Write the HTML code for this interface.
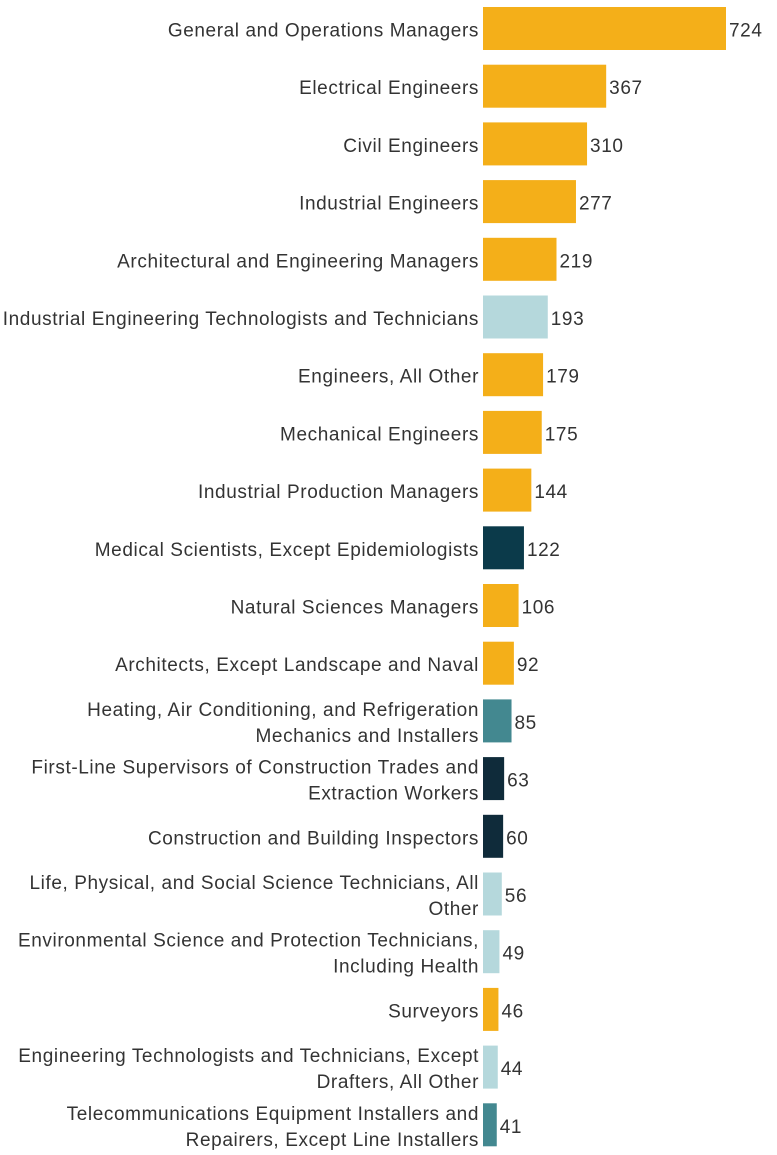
<!DOCTYPE html>
<html><head><meta charset="utf-8"><style>
html,body{margin:0;padding:0;background:#fff;}
svg{display:block;font-family:"Liberation Sans",sans-serif;}
</style></head><body>
<svg id="chart" width="777" height="1155" viewBox="0 0 777 1155"></svg>
<script>
const categories = [
 ["General and Operations Managers"],
 ["Electrical Engineers"],
 ["Civil Engineers"],
 ["Industrial Engineers"],
 ["Architectural and Engineering Managers"],
 ["Industrial Engineering Technologists and Technicians"],
 ["Engineers, All Other"],
 ["Mechanical Engineers"],
 ["Industrial Production Managers"],
 ["Medical Scientists, Except Epidemiologists"],
 ["Natural Sciences Managers"],
 ["Architects, Except Landscape and Naval"],
 ["Heating, Air Conditioning, and Refrigeration","Mechanics and Installers"],
 ["First-Line Supervisors of Construction Trades and","Extraction Workers"],
 ["Construction and Building Inspectors"],
 ["Life, Physical, and Social Science Technicians, All","Other"],
 ["Environmental Science and Protection Technicians,","Including Health"],
 ["Surveyors"],
 ["Engineering Technologists and Technicians, Except","Drafters, All Other"],
 ["Telecommunications Equipment Installers and","Repairers, Except Line Installers"]
];
const values = [724,367,310,277,219,193,179,175,144,122,106,92,85,63,60,56,49,46,44,41];
const groups = ["g","g","g","g","g","l","g","g","g","n","g","g","t","d","d","l","l","g","l","t"];
const colorMap = {g:"#F4AF19", l:"#B5D8DC", n:"#0B3A4A", t:"#438890", d:"#0F2B3A"};

const svg = document.getElementById('chart');
const NS = "http://www.w3.org/2000/svg";
const x0 = 483, scale = 243/724;
const xPos = v => x0 + v*scale;
const yCenter = i => 28.5 + i*57.7;
const barH = 43;

categories.forEach((lines,i)=>{
  const cy = yCenter(i);
  const r = document.createElementNS(NS,'rect');
  r.setAttribute('x', x0);
  r.setAttribute('y', cy - barH/2);
  r.setAttribute('width', xPos(values[i]) - x0);
  r.setAttribute('height', barH);
  r.setAttribute('fill', colorMap[groups[i]]);
  
  
  svg.appendChild(r);

  const vt = document.createElementNS(NS,'text');
  vt.setAttribute('x', xPos(values[i]) + 3);
  vt.setAttribute('y', cy + 8);
  vt.setAttribute('font-size', '19');
  vt.setAttribute('letter-spacing', '0.6');
  vt.setAttribute('fill', '#333');
  vt.textContent = values[i];
  
  
  svg.appendChild(vt);

  const lt = document.createElementNS(NS,'text');
  lt.setAttribute('x', 479);
  lt.setAttribute('text-anchor', 'end');
  lt.setAttribute('font-size', '19');
  lt.setAttribute('letter-spacing', '0.6');
  lt.setAttribute('fill', '#333');
  
  
  const off = lines.length === 2 ? -13 : 0;
  lines.forEach((ln,k)=>{
    const ts = document.createElementNS(NS,'tspan');
    ts.setAttribute('x', 479);
    ts.setAttribute('y', cy + 8 + off + k*26);
    ts.textContent = ln;
    lt.appendChild(ts);
  });
  svg.appendChild(lt);
});
</script>
</body></html>
